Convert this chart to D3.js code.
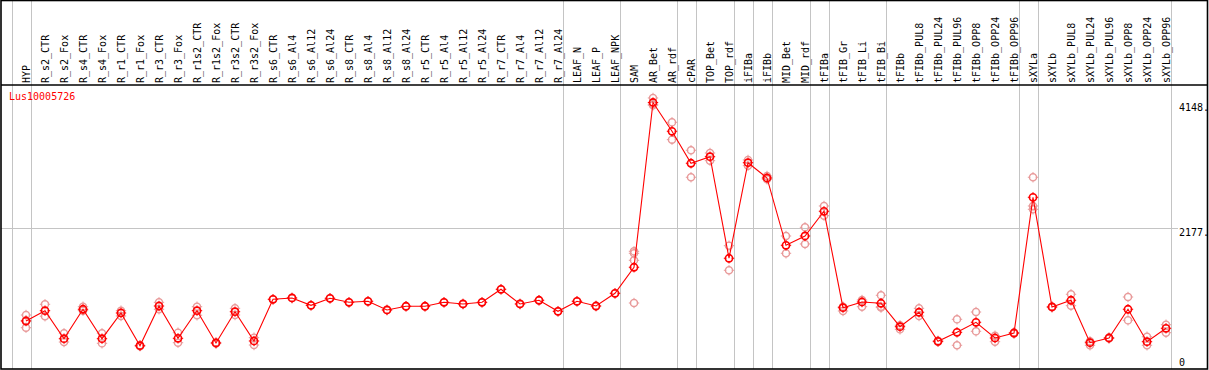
<!DOCTYPE html>
<html><head><meta charset="utf-8">
<script src="https://cdn.jsdelivr.net/npm/d3@7"></script>
<style>html,body{margin:0;padding:0;background:#fff;}svg{display:block;}</style>
</head><body>
<script>
const geneName = "Lus10005726";
const categories = ["HYP","R_s2_CTR","R_s2_Fox","R_s4_CTR","R_s4_Fox","R_r1_CTR","R_r1_Fox","R_r3_CTR","R_r3_Fox","R_r1s2_CTR","R_r1s2_Fox","R_r3s2_CTR","R_r3s2_Fox","R_s6_CTR","R_s6_Al4","R_s6_Al12","R_s6_Al24","R_s8_CTR","R_s8_Al4","R_s8_Al12","R_s8_Al24","R_r5_CTR","R_r5_Al4","R_r5_Al12","R_r5_Al24","R_r7_CTR","R_r7_Al4","R_r7_Al12","R_r7_Al24","LEAF_N","LEAF_P","LEAF_NPK","SAM","AR_Bet","AR_rdf","cPAR","TOP_Bet","TOP_rdf","iFIBa","iFIBb","MID_Bet","MID_rdf","tFIBa","tFIB_Gr","tFIB_Li","tFIB_Bi","tFIBb","tFIBb_PUL8","tFIBb_PUL24","tFIBb_PUL96","tFIBb_OPP8","tFIBb_OPP24","tFIBb_OPP96","sXYLa","sXYLb","sXYLb_PUL8","sXYLb_PUL24","sXYLb_PUL96","sXYLb_OPP8","sXYLb_OPP24","sXYLb_OPP96"];
const groupSizes = [1,28,3,3,1,2,1,1,2,1,3,7,1,7];
const meanValues = [725,887,448,909,448,851,338,960,454,887,381,871,412,1065,1086,971,1081,1018,1034,898,956,956,1018,992,1018,1222,992,1050,877,1034,960,1159,1567,4148,3697,3196,3299,1708,3205,2966,1911,2057,2444,934,1023,1003,636,862,407,548,705,459,537,2663,945,1050,385,459,909,401,611];
const replicateValues = [
 [819,620,735],[987,800],[533,396],[949,887],[533,376],[887,804],[345,331],[1018,909],[542,385],[949,815],[390,372],[924,819],[464,349],
 [1065],[1086],[971],[1081],[1018],[1034],[898],[956],[956],[1018],[992],[1018],[1222],[992],[1050],[877],[1034],[960],[1159],
 [1817,1786,1676,1007],[4219,4105,4120],[3838,3566],[3400,2977],[3357,3237],[1905,1520],[3248,3158],[2997,2945],[2057,1786],[2193,1932],[2527,2375],
 [949,882],[1054,949],[1128,949,935],[658,595],[924,804],[415,400],[752,345],[866,564],[495,401],[545,530],
 [2977,2527,2475],[950,940],[1144,965],[407,345],[465,452],[1101,736],[479,345],[667,542]
];
const tickValues = [0,2177,4148];
const tickLabels = ["0","2177.","4148."];
const gridValues = [2177];

const W = 1209, H = 370;
const svg = d3.select("body").append("svg").attr("width", W).attr("height", H);
const FONT = "'DejaVu Sans Mono', 'Liberation Mono', monospace";
const plotRight = 1170.5, frameRight = 1207.5, headerY = 85, bottom = 369;

const x = d3.scalePoint().domain(categories).range([26, 1166]);
const step = x.step();
const y = d3.scaleLinear().domain([0, 4148]).range([367.3, 102.5]);

// group separators
const sepX = [x(categories[0]) - step + 4.5];
let acc = 0;
groupSizes.forEach(s => { acc += s; sepX.push(x(categories[acc - 1]) + 4.5); });
svg.append("g").selectAll("line").data(sepX).join("line")
  .attr("x1", d => Math.round(d) + 0.5).attr("x2", d => Math.round(d) + 0.5)
  .attr("y1", 0).attr("y2", bottom)
  .attr("stroke", "#c4c4c4").attr("stroke-width", 1);

// grid line
svg.append("g").selectAll("line").data(gridValues).join("line")
  .attr("x1", 1).attr("x2", 1178)
  .attr("y1", d => Math.round(y(d)) + 0.5).attr("y2", d => Math.round(y(d)) + 0.5)
  .attr("stroke", "#c4c4c4").attr("stroke-width", 1);

// frame
const frame = svg.append("g").attr("stroke", "#000").attr("stroke-width", 1.6).attr("fill", "none");
frame.append("rect").attr("x", 1).attr("y", 0.5).attr("width", frameRight - 1).attr("height", bottom - 0.5);
frame.append("line").attr("x1", 1).attr("x2", frameRight).attr("y1", headerY).attr("y2", headerY);

// header labels
svg.append("g").selectAll("text").data(categories).join("text")
  .attr("transform", d => `translate(${x(d) + 4},83) rotate(-90)`)
  .attr("font-family", FONT).attr("font-size", 10).attr("fill", "#000")
  .text(d => d);

// right axis labels
svg.append("g").selectAll("text").data(tickValues).join("text")
  .attr("x", 1179)
  .attr("y", (d, i) => Math.min(y(d) + 8, 366))
  .attr("font-family", FONT).attr("font-size", 10).attr("fill", "#000")
  .text((d, i) => tickLabels[i]);

// title
svg.append("text").attr("x", 9).attr("y", 100)
  .attr("font-family", FONT).attr("font-size", 10).attr("fill", "#ff0000")
  .text(geneName);

function marker(g, color, sw) {
  const r = 3.6;
  g.append("circle").attr("r", r).attr("fill", "none").attr("stroke", color).attr("stroke-width", sw);
  [[0,-1],[0,1],[-1,0],[1,0]].forEach(([dx,dy]) => {
    g.append("line").attr("x1", dx*(r-1)).attr("y1", dy*(r-1)).attr("x2", dx*(r+1.6)).attr("y2", dy*(r+1.6))
      .attr("stroke", color).attr("stroke-width", 1);
  });
}

// replicates
const reps = [];
replicateValues.forEach((arr, i) => arr.forEach(v => reps.push({c: categories[i], v})));
svg.append("g").selectAll("g").data(reps).join("g")
  .attr("transform", d => `translate(${x(d.c)},${y(d.v)})`)
  .each(function() { marker(d3.select(this), "#e89a9a", 1.3); });

// line
const pts = categories.map((c, i) => ({c, v: meanValues[i]}));
svg.append("path").datum(pts)
  .attr("d", d3.line().x(d => x(d.c)).y(d => y(d.v)))
  .attr("fill", "none").attr("stroke", "#ff0000").attr("stroke-width", 1.1);

// means
svg.append("g").selectAll("g").data(pts).join("g")
  .attr("transform", d => `translate(${x(d.c)},${y(d.v)})`)
  .each(function() { marker(d3.select(this), "#ff0000", 1.6); });
</script>
</body></html>
